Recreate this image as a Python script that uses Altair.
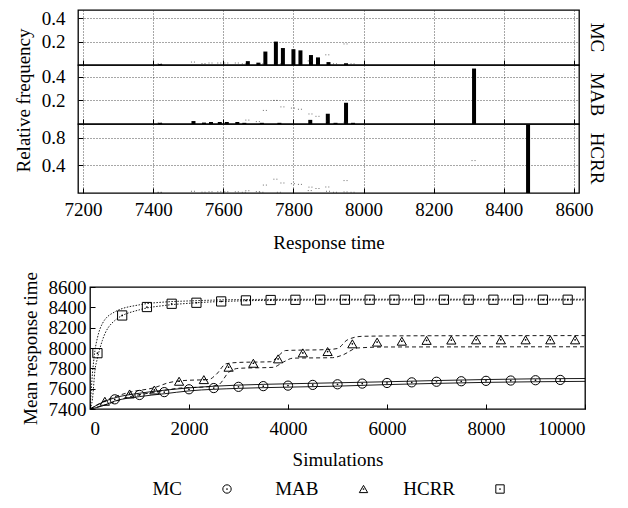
import altair as alt
import pandas as pd

FONT = "Liberation Serif"
FS = 19

methods = ["MC", "MAB", "HCRR"]

# ---------------- histogram data (response time, relative frequency) ----------------
mc_rt = [7420, 7670, 7700, 7720, 7750, 7770, 7800, 7820, 7850, 7870, 7900, 7950]
mc_freq = [0.008, 0.033, 0.02, 0.115, 0.2, 0.145, 0.135, 0.125, 0.085, 0.065, 0.025, 0.015]
mab_rt = [7420, 7515, 7545, 7565, 7590, 7610, 7640, 7660, 7710, 7760, 7848, 7898, 7920, 7950, 7970, 8315]
mab_freq = [0.01, 0.025, 0.012, 0.017, 0.017, 0.017, 0.017, 0.01, 0.01, 0.01, 0.035, 0.087, 0.01, 0.18, 0.01, 0.47]
hcrr_rt = [8469]
hcrr_freq = [0.99]
rt_ticks = [7200, 7400, 7600, 7800, 8000, 8200, 8400, 8600]

# ---------------- convergence data ----------------
mc_sims = [500, 1000, 1500, 2000, 2500, 3000, 3500, 4000, 4500, 5000, 5500, 6000, 6500, 7000, 7500, 8000, 8500, 9000, 9500]
mc_mean = [7495, 7538, 7566, 7594, 7606, 7618, 7625, 7630, 7637, 7643, 7650, 7656, 7662, 7668, 7673, 7677, 7680, 7683, 7686]
mab_sims = [300, 800, 1300, 1800, 2300, 2800, 3300, 3800, 4300, 4800, 5300, 5800, 6300, 6800, 7300, 7800, 8300, 8800, 9300, 9800]
mab_mean = [7476, 7548, 7587, 7673, 7689, 7811, 7850, 7893, 7952, 7965, 8041, 8058, 8067, 8075, 8078, 8080, 8080, 8080, 8080, 8080]
hcrr_sims = [150, 650, 1150, 1650, 2150, 2650, 3150, 3650, 4150, 4650, 5150, 5650, 6150, 6650, 7150, 7650, 8150, 8650, 9150, 9650]
hcrr_mean = [7949, 8320, 8403, 8435, 8445, 8458, 8468, 8472, 8474, 8475, 8475, 8475, 8475, 8475, 8475, 8475, 8475, 8475, 8475, 8475]

mc_line_sims = [0, 250, 500, 1000, 1500, 2000, 3000, 4000, 5000, 6000, 7000, 8000, 9000, 10000]
mc_upper = [7400, 7465, 7510, 7555, 7585, 7608, 7635, 7648, 7658, 7668, 7680, 7690, 7697, 7700]
mc_lower = [7400, 7430, 7478, 7522, 7550, 7578, 7603, 7615, 7625, 7640, 7652, 7662, 7668, 7672]

mab_upper_sims = [0, 300, 800, 1300, 1600, 1900, 2400, 2550, 2750, 3000, 3650, 3800, 3950, 4800, 5000, 5200, 5500, 6500, 10000]
mab_upper = [7400, 7480, 7565, 7610, 7660, 7680, 7690, 7740, 7845, 7858, 7865, 7920, 7975, 7985, 7995, 8080, 8115, 8120, 8122]
mab_lower_sims = [0, 300, 800, 1300, 1800, 2400, 2600, 2800, 3000, 3700, 3900, 4100, 4900, 5100, 5400, 6000, 10000]
mab_lower = [7400, 7440, 7520, 7565, 7605, 7620, 7640, 7760, 7800, 7810, 7860, 7900, 7905, 7930, 8000, 8010, 8012]

hcrr_line_sims = [0, 50, 100, 150, 250, 500, 1000, 1500, 2000, 3000, 4000, 6000, 10000]
hcrr_upper = [7400, 7750, 7975, 8100, 8240, 8355, 8425, 8452, 8463, 8476, 8479, 8480, 8480]
hcrr_lower = [7400, 7500, 7780, 7900, 8075, 8270, 8376, 8418, 8440, 8463, 8470, 8472, 8472]

sim_ticks = [0, 2000, 4000, 6000, 8000, 10000]
mrt_ticks = [7400, 7600, 7800, 8000, 8200, 8400, 8600]

# ---------------- tables ----------------
hist = pd.concat([
    pd.DataFrame({"method": m, "rt": r, "freq": f})
    for m, r, f in zip(methods, [mc_rt, mab_rt, hcrr_rt], [mc_freq, mab_freq, hcrr_freq])
], ignore_index=True)

means = pd.concat([
    pd.DataFrame({"series": m, "sims": s, "value": v})
    for m, s, v in zip(methods, [mc_sims, mab_sims, hcrr_sims], [mc_mean, mab_mean, hcrr_mean])
], ignore_index=True)


def bounds_df(xu, yu, xl, yl):
    return pd.concat([
        pd.DataFrame({"sims": xu, "value": yu, "bound": "upper"}),
        pd.DataFrame({"sims": xl, "value": yl, "bound": "lower"}),
    ], ignore_index=True)


shape_scale = alt.Scale(domain=methods, range=["circle", "triangle-up", "square"])
GRID = dict(grid=True, gridDash=[1, 2], gridColor="#222222", gridWidth=0.8)
NOBORDER = alt.ViewBackground(stroke="transparent")

# ---------------- histogram panels ----------------
PANEL_W = 501
panel_cfg = {"MC": (55, 0.47, [0.2, 0.4]), "MAB": (59, 0.5, [0.2, 0.4]), "HCRR": (69, 1.0, [0.4, 0.8])}


def panel(m):
    h, ymax, yt = panel_cfg[m]
    last = m == "HCRR"
    xaxis_kw = dict(values=rt_ticks, format="d", domain=False, ticks=True, tickSize=5, offset=-5,
                    tickColor="black", labels=last, labelPadding=7, **GRID)
    if last:
        xaxis_kw.update(title="Response time", titlePadding=14)
    else:
        xaxis_kw.update(title=None)
    yaxis_kw = dict(values=yt, format=".1f", domain=False, ticks=True, tickSize=5, offset=-5,
                    tickColor="black", labelPadding=13, **GRID)
    if m == "MAB":
        yaxis_kw.update(title="Relative frequency", titlePadding=8, titleY=35)
    else:
        yaxis_kw.update(title=None)
    xs = alt.Scale(domain=[7200, 8600], nice=False, zero=False)
    ys = alt.Scale(domain=[0, ymax], nice=False)
    bars = alt.Chart(hist).transform_filter(alt.datum.method == m).mark_bar(
        size=4, color="black", clip=True
    ).encode(
        x=alt.X("rt:Q", scale=xs, axis=alt.Axis(**xaxis_kw)),
        y=alt.Y("freq:Q", scale=ys, axis=alt.Axis(**yaxis_kw)),
    )
    ghosts = alt.Chart(hist).transform_filter(alt.datum.method != m).mark_point(
        shape="M-1,0H1", size=25, filled=False, stroke="#333333", strokeWidth=1,
        strokeDash=[1, 2], clip=True
    ).encode(x=alt.X("rt:Q", scale=xs), y=alt.Y("freq:Q", scale=ys))
    label = alt.Chart(pd.DataFrame({"t": [m]})).mark_text(
        angle=90, font=FONT, fontSize=FS, color="black"
    ).encode(text="t:N", x=alt.value(PANEL_W + 18), y=alt.value(h / 2))
    return alt.layer(bars, ghosts, label).properties(width=PANEL_W, height=h)


top = alt.concat(panel("MC"), panel("MAB"), panel("HCRR"), columns=1, spacing=0,
                 bounds="flush", align="each")

# ---------------- convergence chart ----------------
BW, BH = 495, 122
xsc = alt.Scale(domain=[0, 10000], nice=False)
ysc = alt.Scale(domain=[7400, 8600], nice=False, zero=False)
xax = alt.Axis(values=sim_ticks, format="d", grid=False, domain=False, ticks=True, tickSize=5, offset=-5,
               tickColor="black", labelPadding=10, title="Simulations", titlePadding=12)
yax = alt.Axis(values=mrt_ticks, format="d", grid=False, domain=False, ticks=True, tickSize=5, offset=-5,
               tickColor="black", labelPadding=4, title="Mean response time", titlePadding=8)
X_ENC = alt.X("sims:Q", scale=xsc, axis=xax)
Y_ENC = alt.Y("value:Q", scale=ysc, axis=yax)


def line_layer(df, dash):
    kw = dict(color="black", strokeWidth=0.9, clip=True, interpolate="monotone")
    if dash:
        kw["strokeDash"] = dash
    return alt.Chart(df).mark_line(**kw).encode(x=X_ENC, y=Y_ENC, detail="bound:N")


mc_lines = line_layer(bounds_df(mc_line_sims, mc_upper, mc_line_sims, mc_lower), None)
mab_lines = line_layer(bounds_df(mab_upper_sims, mab_upper, mab_lower_sims, mab_lower), [4, 3])
hcrr_lines = line_layer(bounds_df(hcrr_line_sims, hcrr_upper, hcrr_line_sims, hcrr_lower), [1.5, 1.5])

markers = alt.Chart(means).mark_point(filled=False, color="black", size=85, strokeWidth=1, opacity=1).encode(
    x=X_ENC, y=Y_ENC,
    shape=alt.Shape("series:N", scale=shape_scale, legend=None),
)
dots = alt.Chart(means).mark_circle(size=3, color="black", opacity=1).encode(x=X_ENC, y=Y_ENC)

bottom = alt.layer(mc_lines, mab_lines, hcrr_lines, markers, dots).properties(width=BW, height=BH)

# spacer so that the lower plot sits a little to the right of the histograms
spacer = alt.Chart(pd.DataFrame({"s": [0]})).mark_point(opacity=0).encode(
    x=alt.value(0), y=alt.value(0)).properties(width=12, height=BH, view=NOBORDER)
bottom_row = alt.hconcat(spacer, bottom, spacing=0, bounds="flush")

# ---------------- manual legend (label, then symbol) ----------------
leg = pd.DataFrame({"series": methods})
lx = alt.X("series:N", scale=alt.Scale(type="point", domain=methods, range=[149, 422], padding=0), axis=None)
leg_text = alt.Chart(leg).mark_text(font=FONT, fontSize=FS, color="black", align="right", dx=-45).encode(
    x=lx, text="series:N", y=alt.value(8))
leg_sym = alt.Chart(leg).mark_point(filled=False, color="black", size=70, strokeWidth=1, opacity=1).encode(
    x=lx, y=alt.value(8), shape=alt.Shape("series:N", scale=shape_scale, legend=None))
leg_dot = alt.Chart(leg).mark_circle(size=3, color="black", opacity=1).encode(x=lx, y=alt.value(8))
legend_chart = alt.layer(leg_text, leg_sym, leg_dot).properties(width=BW, height=16, view=NOBORDER)

lower = alt.concat(bottom_row, legend_chart, columns=1, spacing=9)

chart = alt.concat(top, lower, columns=1, spacing=17, center=False).properties(
    padding={"left": 5, "top": 0, "right": 5, "bottom": 5},
    background="white",
).configure_view(
    stroke="black", strokeWidth=1.3
).configure_axis(
    labelFont=FONT, titleFont=FONT, labelFontSize=FS, titleFontSize=FS,
    labelColor="black", titleColor="black", titleFontWeight="normal",
)

chart.save("out.html", embed_options={"renderer": "svg", "actions": False})
